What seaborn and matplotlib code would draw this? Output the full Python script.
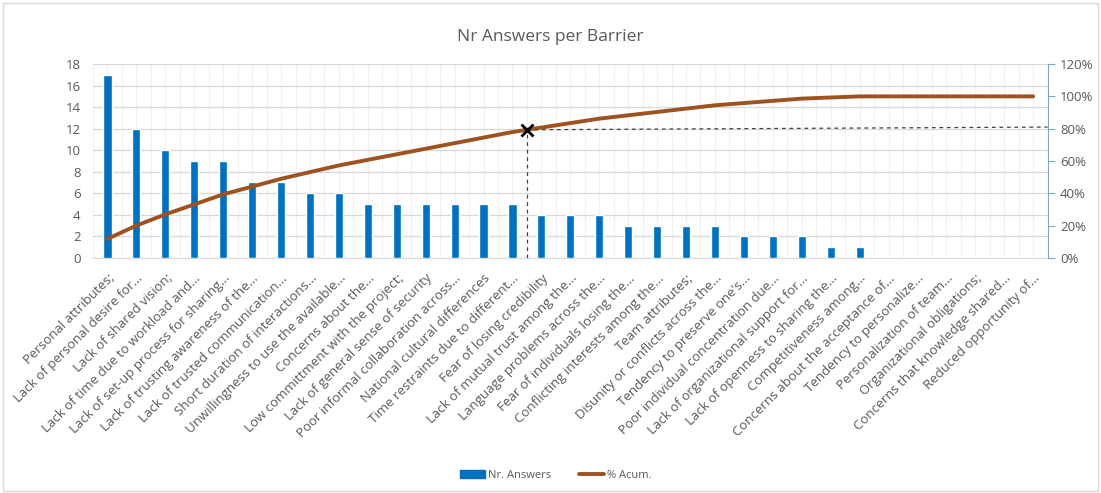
import numpy as np
import pandas as pd
import matplotlib
matplotlib.use("Agg")
import matplotlib.pyplot as plt
import seaborn as sns
from matplotlib.lines import Line2D
from matplotlib.patches import Patch

categories = [
    "Personal attributes;", "Lack of personal desire for...", "Lack of shared vision;",
    "Lack of time due to workload and...", "Lack of set-up process for sharing...",
    "Lack of trusting awareness of the...", "Lack of trusted communication...",
    "Short duration of interactions...", "Unwillingness to use the available...",
    "Concerns about the...", "Low committment with the project;",
    "Lack of general sense of security", "Poor informal collaboration across...",
    "National cultural differences", "Time restraints due to different...",
    "Fear of losing credibility", "Lack of mutual trust among the...",
    "Language problems across the...", "Fear of individuals losing the...",
    "Conflicting interests among the...", "Team attributes;",
    "Disunity or conflicts across the...", "Tendency to preserve one's...",
    "Poor individual concentration due...", "Lack of organizational support for...",
    "Lack of openness to sharing the...", "Competitiveness among...",
    "Concerns about the acceptance of...", "Tendency to personalize...",
    "Personalization of team...", "Organizational obligations;",
    "Concerns that knowledge shared...", "Reduced opportunity of...",
]
answers = [17, 12, 10, 9, 9, 7, 7, 6, 6, 5, 5, 5, 5, 5, 5, 4, 4, 4, 3, 3, 3, 3,
           2, 2, 2, 1, 1, 0, 0, 0, 0, 0, 0]
left_ticks = [0, 2, 4, 6, 8, 10, 12, 14, 16, 18]
right_ticks = [0, 20, 40, 60, 80, 100, 120]
cut_pos = 14.5
cut_level = 80

cum_pct = np.cumsum(answers) / np.sum(answers) * 100
df = pd.DataFrame({"Barrier": categories, "Answers": answers,
                   "pos": np.arange(len(categories)), "Cum": cum_pct})

sns.set_style("white")
plt.rcParams["font.family"] = ["Open Sans", "DejaVu Sans"]

BLUE = "#0070C0"
BROWN = "#9E5220"
GRAY = "#595959"

fig = plt.figure(figsize=(11.01, 4.93), dpi=100)
ax = fig.add_axes([0.0845, 0.477, 0.867, 0.393])

sns.barplot(data=df, x="Barrier", y="Answers", color=BLUE, width=0.28,
            saturation=1, ax=ax, zorder=3)
n = len(categories)
ax.set_xlim(-0.5, n - 0.5)
ax.set_ylim(0, 18)
ax.set_yticks(left_ticks)
ax.set_xlabel("")
ax.set_ylabel("")
for b in np.arange(-0.5, n, 0.5):
    ax.axvline(b, color="#F0F0F0", lw=0.8, zorder=0)
ax.grid(axis="y", color="#D9D9D9", lw=0.9, zorder=0)
ax.set_axisbelow(True)
for s in ax.spines.values():
    s.set_visible(False)
ax.spines["bottom"].set_visible(True)
ax.spines["bottom"].set_color("#D9D9D9")
ax.tick_params(axis="y", colors=GRAY, labelsize=9.5, length=0, pad=9)
ax.tick_params(axis="x", colors=GRAY, labelsize=9.5, length=0, pad=10)
plt.setp(ax.get_xticklabels(), rotation=45, ha="right", rotation_mode="anchor")

ax2 = ax.twinx()
sns.lineplot(data=df, x="pos", y="Cum", color=BROWN, lw=2.8, ax=ax2, zorder=4)
ax2.set_ylim(0, 120)
ax2.set_yticks(right_ticks)
ax2.set_yticklabels([f"{t}%" for t in right_ticks])
ax2.set_xlim(-0.5, n - 0.5)
ax2.set_ylabel("")
ax2.set_xlabel("")
for s in ax2.spines.values():
    s.set_visible(False)
ax2.spines["right"].set_visible(True)
ax2.spines["right"].set_color("#7FA7BF")
ax2.tick_params(axis="y", colors=GRAY, labelsize=9.5, length=5, direction="out",
                color="#7FA7BF", pad=4)

i0 = int(np.floor(cut_pos))
yc = np.interp(cut_pos, [i0, i0 + 1], [cum_pct[i0], cum_pct[i0 + 1]])
ax2.plot([cut_pos, cut_pos], [0, yc], ls=(0, (3, 3)), color="#404040", lw=0.9, zorder=5)
ax2.plot([cut_pos, n - 0.5], [yc, cut_level + 1], ls=(0, (3, 3)), color="#404040",
         lw=0.9, zorder=5)
ax2.plot([cut_pos], [yc], marker="x", color="black", ms=8, mew=2, zorder=6)

fig.text(0.5, 0.925, "Nr Answers per Barrier", ha="center", va="center",
         fontsize=12.5, color=GRAY)

handles = [Patch(facecolor=BLUE, edgecolor=BLUE, label="Nr. Answers"),
           Line2D([0], [0], color=BROWN, lw=2.8, label="% Acum.")]
fig.legend(handles=handles, loc="center", bbox_to_anchor=(0.505, 0.035), ncol=2,
           frameon=False, fontsize=8, labelcolor=GRAY, handlelength=2.2,
           handleheight=0.7, columnspacing=2.5, handletextpad=0.3)

border = plt.Rectangle((0.003, 0.004), 0.994, 0.99, transform=fig.transFigure,
                       fill=False, edgecolor="#D9D9D9", lw=1)
fig.patches.append(border)

fig.savefig("out.png", dpi=100)
